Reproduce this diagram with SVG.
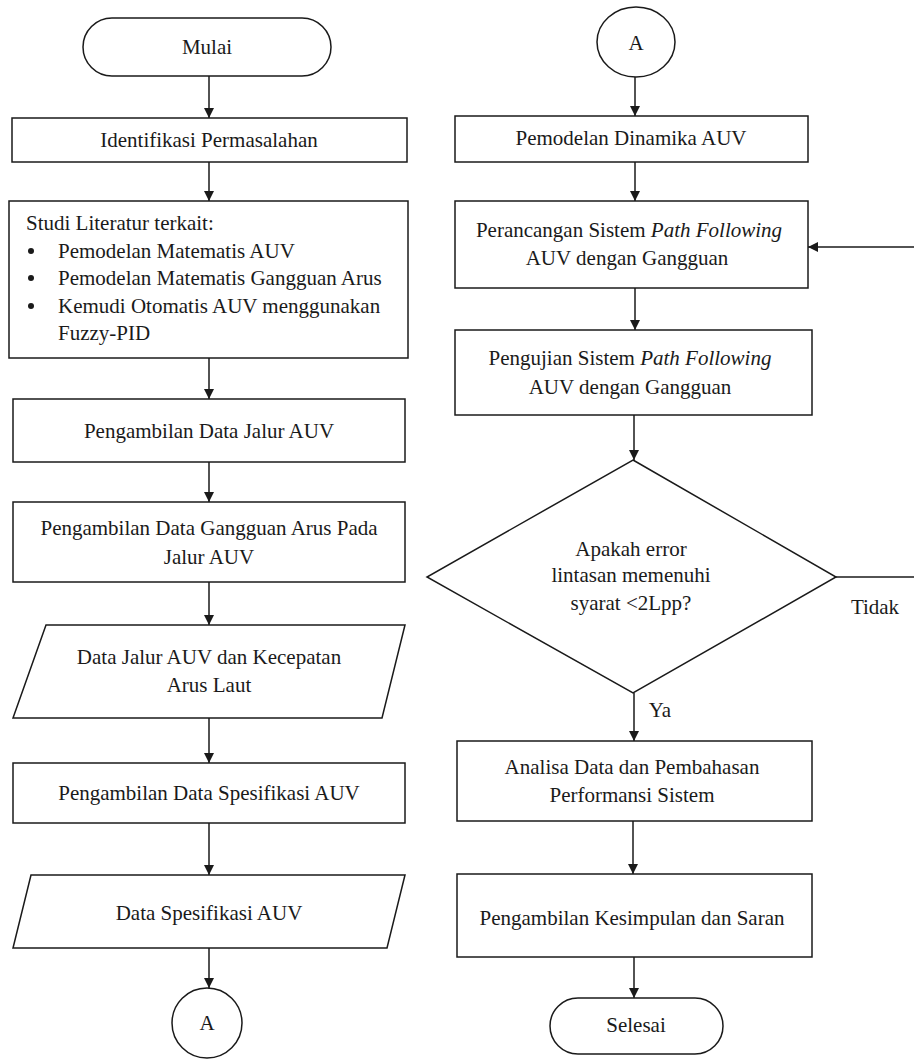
<svg xmlns="http://www.w3.org/2000/svg" width="914" height="1059" viewBox="0 0 914 1059">
<style>
.s{fill:#fff;stroke:#1a1a1a;stroke-width:1.5}
.c{fill:none;stroke:#1a1a1a;stroke-width:1.5}
text{font-family:"Liberation Serif","Times New Roman",serif;font-size:21px;fill:#1a1a1a}
.m{text-anchor:middle}
.i{font-style:italic}
</style>
<defs>
<marker id="ah" viewBox="0 0 10 10" refX="10" refY="5" markerWidth="10" markerHeight="10" markerUnits="userSpaceOnUse" orient="auto">
<path d="M0,0 L10,5 L0,10 z" fill="#1a1a1a"/>
</marker>
</defs>
<rect width="914" height="1059" fill="#fff"/>
<g id="connectors">
<line class="c" x1="209" y1="76" x2="209" y2="118" marker-end="url(#ah)"/>
<line class="c" x1="209" y1="162" x2="209" y2="201" marker-end="url(#ah)"/>
<line class="c" x1="209" y1="358" x2="209" y2="399" marker-end="url(#ah)"/>
<line class="c" x1="209" y1="462" x2="209" y2="502" marker-end="url(#ah)"/>
<line class="c" x1="209" y1="582" x2="209" y2="625" marker-end="url(#ah)"/>
<line class="c" x1="209" y1="718" x2="209" y2="763" marker-end="url(#ah)"/>
<line class="c" x1="209" y1="823" x2="209" y2="875" marker-end="url(#ah)"/>
<line class="c" x1="209" y1="948" x2="209" y2="988" marker-end="url(#ah)"/>
<line class="c" x1="635" y1="77" x2="635" y2="116" marker-end="url(#ah)"/>
<line class="c" x1="635" y1="162" x2="635" y2="201" marker-end="url(#ah)"/>
<line class="c" x1="635" y1="288" x2="635" y2="330" marker-end="url(#ah)"/>
<line class="c" x1="634" y1="415" x2="634" y2="460" marker-end="url(#ah)"/>
<line class="c" x1="634" y1="693" x2="634" y2="741" marker-end="url(#ah)"/>
<line class="c" x1="633" y1="821" x2="633" y2="874" marker-end="url(#ah)"/>
<line class="c" x1="634" y1="957" x2="634" y2="998" marker-end="url(#ah)"/>
<line class="c" x1="836" y1="577" x2="914" y2="577"/>
<line class="c" x1="914" y1="247" x2="808" y2="247" marker-end="url(#ah)"/>
<text x="875" y="614" class="m">Tidak</text>
<text x="660" y="717" class="m">Ya</text>
</g>
<g id="mulai">
<rect class="s" x="83" y="18" width="248" height="58" rx="29" ry="29"/>
<text x="207" y="54" class="m">Mulai</text>
</g>
<g id="identifikasi">
<rect class="s" x="12" y="118" width="395" height="44"/>
<text x="209" y="147" class="m">Identifikasi Permasalahan</text>
</g>
<g id="studi">
<rect class="s" x="9" y="201" width="399" height="157"/>
<text x="26" y="230">Studi Literatur terkait:</text>
<circle cx="31" cy="251" r="3" fill="#1a1a1a"/>
<text x="58" y="258">Pemodelan Matematis AUV</text>
<circle cx="31" cy="278" r="3" fill="#1a1a1a"/>
<text x="58" y="285">Pemodelan Matematis Gangguan Arus</text>
<circle cx="31" cy="306" r="3" fill="#1a1a1a"/>
<text x="58" y="313">Kemudi Otomatis AUV menggunakan</text>
<text x="58" y="340">Fuzzy-PID</text>
</g>
<g id="jalur">
<rect class="s" x="13" y="399" width="392" height="63"/>
<text x="209" y="438" class="m">Pengambilan Data Jalur AUV</text>
</g>
<g id="gangguan">
<rect class="s" x="13" y="502" width="392" height="80"/>
<text x="209" y="535" class="m">Pengambilan Data Gangguan Arus Pada</text>
<text x="209" y="564" class="m">Jalur AUV</text>
</g>
<g id="data-jalur">
<polygon class="s" points="46,625 405,625 382,718 13,718"/>
<text x="209" y="664" class="m">Data Jalur AUV dan Kecepatan</text>
<text x="209" y="692" class="m">Arus Laut</text>
</g>
<g id="spesifikasi">
<rect class="s" x="13" y="763" width="392" height="60"/>
<text x="209" y="800" class="m">Pengambilan Data Spesifikasi AUV</text>
</g>
<g id="data-spesifikasi">
<polygon class="s" points="31,875 405,875 387,948 13,948"/>
<text x="209" y="920" class="m">Data Spesifikasi AUV</text>
</g>
<g id="conn-a1">
<circle class="s" cx="207" cy="1023" r="35"/>
<text x="207" y="1030" class="m">A</text>
</g>
<g id="conn-a2">
<ellipse class="s" cx="636" cy="42" rx="39" ry="35"/>
<text x="636" y="50" class="m">A</text>
</g>
<g id="dinamika">
<rect class="s" x="455" y="116" width="353" height="46"/>
<text x="631" y="145" class="m">Pemodelan Dinamika AUV</text>
</g>
<g id="perancangan">
<rect class="s" x="455" y="201" width="353" height="87"/>
<text x="629" y="237" class="m">Perancangan Sistem <tspan class="i">Path Following</tspan></text>
<text x="627" y="265" class="m">AUV dengan Gangguan</text>
</g>
<g id="pengujian">
<rect class="s" x="455" y="330" width="357" height="85"/>
<text x="630" y="365" class="m">Pengujian Sistem <tspan class="i">Path Following</tspan></text>
<text x="630" y="394" class="m">AUV dengan Gangguan</text>
</g>
<g id="keputusan">
<polygon class="s" points="633,460 836,577 633,693 427,577"/>
<text x="631" y="556" class="m">Apakah error</text>
<text x="631" y="582" class="m">lintasan memenuhi</text>
<text x="631" y="610" class="m">syarat &lt;2Lpp?</text>
</g>
<g id="analisa">
<rect class="s" x="457" y="741" width="355" height="80"/>
<text x="632" y="774" class="m">Analisa Data dan Pembahasan</text>
<text x="632" y="802" class="m">Performansi Sistem</text>
</g>
<g id="kesimpulan">
<rect class="s" x="457" y="874" width="355" height="83"/>
<text x="632" y="925" class="m">Pengambilan Kesimpulan dan Saran</text>
</g>
<g id="selesai">
<rect class="s" x="550" y="998" width="173" height="56" rx="28" ry="28"/>
<text x="636" y="1032" class="m">Selesai</text>
</g>
</svg>
